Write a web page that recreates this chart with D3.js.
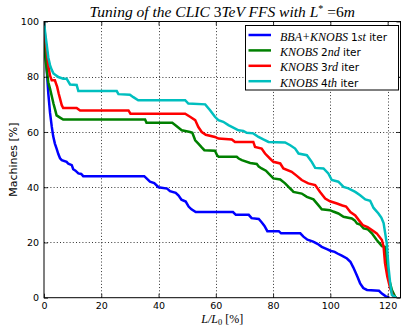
<!DOCTYPE html>
<html>
<head>
<meta charset="utf-8">
<script src="https://cdn.jsdelivr.net/npm/d3@7"></script>
<style>
  html, body { margin: 0; padding: 0; background: #fff; }
  svg { display: block; }
</style>
</head>
<body>
<svg id="chart" width="401" height="327"></svg>
<script>
// Fraction of machines reaching a given luminosity, per tuning iteration
const xTicks = [0, 20, 40, 60, 80, 100, 120];
const yTicks = [0, 20, 40, 60, 80, 100];

const iter1 = [[0,100],[0.5,90],[1,82],[1.5,74],[2.1,67],[2.7,62],[3.2,58.5],[3.8,55.8],[4.4,54],[5,52],[5.6,50.5],[6.2,49.8],[7.9,49.2],[8.5,48.5],[9.7,48],[10.2,46.5],[11,46],[12,45],[13,44.8],[13.7,44],[35,44],[36,43],[37,42],[38.5,41.5],[40,40],[43,39.5],[44,38.6],[46,38],[47,37],[48,35.5],[49.5,34.8],[50.5,33],[51.5,32],[53,31],[66,31],[67,30],[71.5,30],[72.5,28.8],[75,28.5],[76,27.3],[77,26],[78,24.1],[82,24.1],[82.8,23.3],[89.5,23.3],[90.6,22.1],[92,21],[94,20.3],[95.5,19.5],[97,18.4],[99,17.5],[100,17],[101.5,16.6],[102.5,16],[104,15.2],[105.8,14.2],[107,13],[108,11],[108.7,9.4],[109.5,7.5],[110.4,5.2],[111.5,3.5],[112.8,2.8],[117,2.5],[118,1.5],[119.5,0.4],[120.6,0]];

const iter2 = [[0,100],[0.35,88],[1,82],[1.5,78],[2.1,75.7],[2.7,73],[3.3,70.3],[3.9,68],[4.4,66],[5.6,65.2],[6.7,64.5],[35.3,64.5],[35.8,63.3],[44.8,63.3],[45.8,62.5],[47,61.5],[48.1,60.6],[51,60],[51.8,59.7],[52.8,57],[53.9,55.8],[55,54.5],[56,53.4],[59.7,53.2],[60.5,51.5],[61,51],[67.3,51],[68,50.4],[69.1,49.8],[72,48.8],[74.3,48.4],[75,47.5],[76,46.8],[77.5,46],[78.4,45],[80.1,43.2],[82.5,42.8],[84.2,41.4],[85.4,40.1],[86.5,39],[87.1,38.3],[90,37.7],[91.8,36.5],[94.1,35.6],[95.8,33.5],[97,32],[99.9,31.7],[101,31.2],[102.8,30.5],[104.6,29.3],[107.5,28.7],[108.5,28],[109.3,26.9],[110.4,26.5],[111.6,25.1],[113,24.8],[114.5,23.3],[116.2,20.9],[118,18.7],[119.1,18.4],[119.7,13.6],[120.3,7.6],[121.5,2.8],[122.6,0.4],[123,0]];

const iter3 = [[0,100],[0.5,93],[0.9,90],[1.5,84],[2.1,80.5],[2.7,78.7],[3.8,78.7],[4.6,76.3],[5.1,74],[5.6,72.1],[6.2,69.7],[6.7,68.7],[11.4,68.7],[12.6,67.8],[29.5,67.8],[30.2,66.6],[49.3,66.6],[51,65.5],[52.8,64.3],[53.9,61.8],[55.1,60],[56.5,59],[59.7,58.2],[60.9,57.6],[65.6,57.3],[66.7,56.4],[73.1,56.4],[73.7,54.6],[76,54],[77.2,52.2],[78.9,50.4],[80.1,49.2],[82.5,48.6],[83.6,46.8],[86.5,45.6],[88.3,44.1],[90,42.6],[92.3,41.4],[94.7,40.8],[96.4,38.3],[98.2,35.9],[99.9,34.9],[102.3,34.1],[104.2,33.4],[105.5,33],[107,31],[108.7,29.8],[110,28],[111.3,26.3],[113,25.6],[114.5,24.5],[116.2,23.3],[118,20.9],[118.6,18.4],[119.1,12.4],[119.9,7.6],[120.9,3.4],[122,0.4],[123,0]];

const iter4 = [[0,100],[0.4,96],[0.9,92],[1.5,87],[2.1,84.2],[2.7,82.5],[3.3,81.2],[5,79.9],[6.7,79.3],[7.9,79.3],[9.1,77.2],[11.4,77],[12,74.8],[25.4,74.8],[26,73.7],[30,73.5],[31.2,72.6],[32.9,71.5],[49.3,71.5],[50.4,70.3],[56.3,70],[58,67.9],[59.7,65.5],[60.9,64.3],[62.6,63.7],[64.4,62.5],[66.1,61.6],[67.9,60.6],[69.6,60.4],[70.8,59.7],[73.1,59.5],[74.9,58.2],[76.6,57.3],[78.4,56.4],[84.2,56.2],[86,55.2],[87.7,54],[88.9,52.2],[91.8,51.6],[93.5,49.2],[94.7,47],[97.6,46.8],[99.3,45],[100.5,42.6],[102.8,42],[104.6,40.1],[106.3,39.6],[108.7,38.3],[110.4,37.1],[112.2,35.6],[113.9,35.1],[115.1,32.5],[116.8,30.5],[117.8,29],[118.6,27],[119.2,23],[119.7,19.7],[120.3,11.2],[120.9,5.2],[121.5,1],[122.6,0.3],[123,0]];

const series = [
  { data: iter1, color: "#0000ff", main: "BBA+KNOBS", num: "1", suf: "st" },
  { data: iter2, color: "#008000", main: "KNOBS", num: "2", suf: "nd" },
  { data: iter3, color: "#ff0000", main: "KNOBS", num: "3", suf: "rd" },
  { data: iter4, color: "#00bfbf", main: "KNOBS", num: "4", suf: "th" }
];

const svg = d3.select("#chart");
const plotL = 44, plotR = 400.5, plotT = 21.5, plotB = 297.7;
const SERIF = "'Liberation Serif', 'DejaVu Serif', serif";
const SANS = "'DejaVu Sans', sans-serif";

const x = d3.scaleLinear().domain([0, 124.5]).range([plotL, plotR]);
const y = d3.scaleLinear().domain([0, 100]).range([plotB, plotT]);

const clipId = "plotclip";
svg.append("defs").append("clipPath").attr("id", clipId)
  .append("rect").attr("x", plotL).attr("y", plotT)
  .attr("width", plotR - plotL).attr("height", plotB - plotT);

// dotted grid
const grid = svg.append("g").attr("stroke", "#000").attr("stroke-width", 0.8)
  .attr("stroke-dasharray", "1,2.2");
grid.selectAll(".gx").data(xTicks.filter(d => d > 0)).join("line")
  .attr("x1", d => Math.round(x(d)) + 0.5).attr("x2", d => Math.round(x(d)) + 0.5)
  .attr("y1", plotT).attr("y2", plotB);
grid.selectAll(".gy").data(yTicks.filter(d => d > 0 && d < 100)).join("line")
  .attr("y1", d => Math.round(y(d)) + 0.5).attr("y2", d => Math.round(y(d)) + 0.5)
  .attr("x1", plotL).attr("x2", plotR);

// curves
const line = d3.line().x(d => x(d[0])).y(d => y(d[1]));
svg.append("g").attr("clip-path", `url(#${clipId})`)
  .selectAll("path").data(series).join("path")
  .attr("d", d => line(d.data))
  .attr("fill", "none")
  .attr("stroke", d => d.color)
  .attr("stroke-width", 2.5)
  .attr("stroke-linejoin", "miter");

// axes with inward ticks on all sides
const tl = 4;
const axB = svg.append("g").attr("transform", `translate(0,${plotB})`)
  .call(d3.axisBottom(x).tickValues(xTicks).tickSizeInner(-tl).tickSizeOuter(0).tickPadding(5));
const axT = svg.append("g").attr("transform", `translate(0,${plotT})`)
  .call(d3.axisTop(x).tickValues(xTicks).tickSizeInner(-tl).tickSizeOuter(0).tickFormat(""));
const axL = svg.append("g").attr("transform", `translate(${plotL},0)`)
  .call(d3.axisLeft(y).tickValues(yTicks).tickSizeInner(-tl).tickSizeOuter(0).tickPadding(5));
const axR = svg.append("g").attr("transform", `translate(${plotR},0)`)
  .call(d3.axisRight(y).tickValues(yTicks).tickSizeInner(-tl).tickSizeOuter(0).tickFormat(""));
[axB, axT, axL, axR].forEach(a => {
  a.select(".domain").remove();
  a.selectAll(".tick line").attr("stroke", "#000").attr("stroke-width", 0.8);
  a.selectAll("text").attr("font-family", SANS).attr("font-size", 9.5).attr("fill", "#000");
});
axB.selectAll("text").attr("dy", "0.71em");

// frame
svg.append("rect").attr("x", plotL).attr("y", plotT)
  .attr("width", plotR - plotL).attr("height", plotB - plotT)
  .attr("fill", "none").attr("stroke", "#000").attr("stroke-width", 1);

// title, centred by measured width over the plot
const title = svg.append("text").attr("x", 0).attr("y", 17)
  .attr("text-anchor", "start").attr("font-family", SERIF).attr("font-size", 15.5)
  .attr("font-style", "italic");
title.append("tspan").text("Tuning of the CLIC ");
title.append("tspan").attr("font-style", "normal").text("3");
title.append("tspan").text("TeV FFS with L");
title.append("tspan").attr("font-style", "normal").attr("font-size", 10).attr("dy", -5.5).text("*");
title.append("tspan").attr("dy", 5.5).attr("font-style", "normal").text(" =6");
title.append("tspan").text("m");
const tw = title.node().getComputedTextLength();
title.attr("x", (plotL + plotR) / 2 - tw / 2);

// axis labels
const xl = svg.append("text").attr("x", (plotL + plotR) / 2).attr("y", 322.5)
  .attr("text-anchor", "middle").attr("font-family", SERIF).attr("font-size", 12);
xl.append("tspan").attr("font-style", "italic").text("L/L");
xl.append("tspan").attr("font-size", 8.5).attr("dy", 2.5).text("0");
xl.append("tspan").attr("dy", -2.5).text(" [%]");

svg.append("text").attr("transform", `translate(17,${(plotT + plotB) / 2}) rotate(-90)`)
  .attr("text-anchor", "middle").attr("font-family", SANS).attr("font-size", 11)
  .text("Machines [%]");

// legend
const lg = svg.append("g");
lg.append("rect").attr("x", 245.5).attr("y", 25.5).attr("width", 153).attr("height", 64.5)
  .attr("fill", "#fff").attr("stroke", "#000").attr("stroke-width", 1);
const rows = lg.selectAll("g.row").data(series).join("g")
  .attr("transform", (d, i) => `translate(0,${35 + i * 15.4})`);
rows.append("line").attr("x1", 248.5).attr("x2", 271).attr("y1", 0).attr("y2", 0)
  .attr("stroke", d => d.color).attr("stroke-width", 2.5);
const lt = rows.append("text").attr("x", 280).attr("y", 0).attr("dy", "0.35em")
  .attr("fill", "#000");
lt.append("tspan").attr("font-family", SERIF).attr("font-style", "italic").attr("font-size", 12).text(d => d.main + " ");
lt.append("tspan").attr("font-family", SANS).attr("font-size", 10.5).text(d => d.num);
lt.append("tspan").attr("font-family", SERIF).attr("font-style", "italic").attr("font-size", 12).text(d => d.suf);
lt.append("tspan").attr("font-family", SANS).attr("font-size", 10.5).text(" iter");
</script>
</body>
</html>
